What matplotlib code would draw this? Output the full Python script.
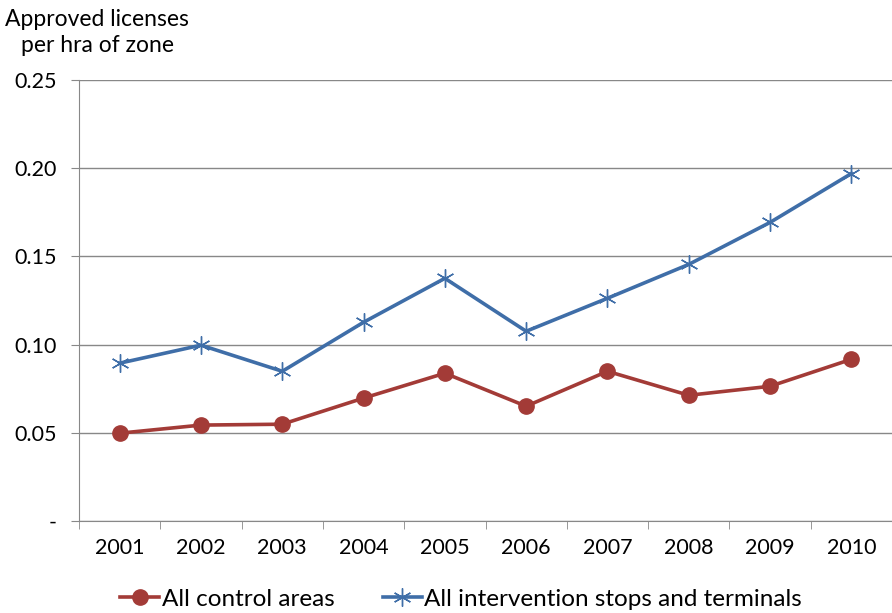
import matplotlib.pyplot as plt

years = ['2001', '2002', '2003', '2004', '2005', '2006', '2007', '2008', '2009', '2010']
control = [0.0498, 0.0544, 0.0549, 0.0697, 0.0838, 0.0651, 0.0849, 0.0713, 0.0764, 0.0917]
intervention = [0.0895, 0.0997, 0.0849, 0.1127, 0.1376, 0.1076, 0.1263, 0.1455, 0.1693, 0.1970]
yticks = [0, 0.05, 0.10, 0.15, 0.20, 0.25]
ylabels = ['-', '0.05', '0.10', '0.15', '0.20', '0.25']

plt.rcParams['font.family'] = ['Lato', 'DejaVu Sans']

fig = plt.figure(figsize=(8.92, 6.13), dpi=100)
ax = fig.add_axes([0.0886, 0.150, 0.9114, 0.7194])

x = list(range(len(years)))
ax.plot(x, control, color='#A33B37', linewidth=2.6, marker='o', markersize=11,
        label='All control areas', zorder=3)
ax.plot(x, intervention, color='#3F6EA8', linewidth=2.6, marker=(6, 2, 0), markersize=13,
        markeredgewidth=1.0, label='All intervention stops and terminals', zorder=3)

ax.set_xlim(-0.5, 9.44)
ax.set_ylim(0, 0.25)
ax.set_yticks(yticks)
ax.set_yticklabels(ylabels, fontsize=15.5)
ax.set_xticks(x)
ax.set_xticklabels(years, fontsize=15.5)
ax.set_xticks([i - 0.5 for i in range(len(years) + 1)], minor=True)
ax.tick_params(axis='x', which='major', length=0, pad=12)
ax.tick_params(axis='x', which='minor', length=6, color='#888888', direction='out')
ax.tick_params(axis='y', length=6, color='#888888', pad=10)
ax.grid(True, axis='y', color='#888888', linewidth=1)
ax.set_axisbelow(True)
for s in ['top', 'right']:
    ax.spines[s].set_visible(False)
for s in ['left', 'bottom']:
    ax.spines[s].set_color('#888888')

fig.text(0.109, 0.985, 'Approved licenses\nper hra of zone', ha='center', va='top',
         fontsize=16.5, linespacing=1.3)

ax.legend(loc='upper center', bbox_to_anchor=(0.47, -0.142), ncol=2, frameon=False,
          fontsize=17.5, handlelength=1.6, handletextpad=0.1, columnspacing=2.0,
          borderaxespad=0, borderpad=0.2)

plt.savefig('out.png', dpi=100)
